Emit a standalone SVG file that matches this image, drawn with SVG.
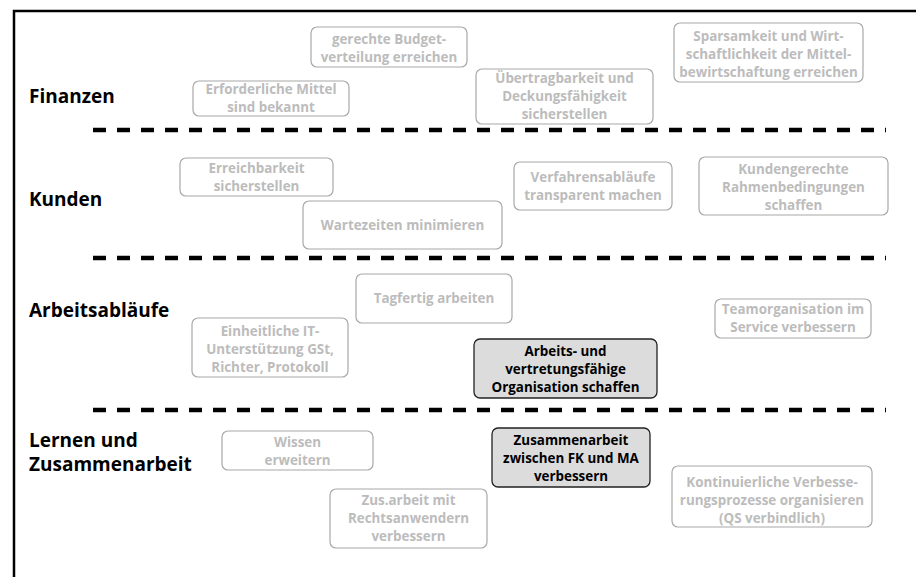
<svg xmlns="http://www.w3.org/2000/svg" width="916" height="577" viewBox="0 0 916 577">
  <style>
    .frame { fill: none; stroke: #000; stroke-width: 2.5; }
    .sep { fill: none; stroke: #000; stroke-width: 4.5; stroke-dasharray: 13 11; }
    .lane { font-family: "Open Sans", "Liberation Sans", sans-serif; font-weight: bold; font-size: 19px; fill: #000; }
    .box { fill: #fff; stroke: #a8a8a8; stroke-width: 1.2; }
    .box-t { font-family: "Open Sans", "Liberation Sans", sans-serif; font-weight: bold; font-size: 13.4px; fill: #bcbcbc; text-anchor: middle; }
    .hl { fill: #dcdcdc; stroke: #222; stroke-width: 1.3; }
    .hl-t { font-family: "Open Sans", "Liberation Sans", sans-serif; font-weight: bold; font-size: 13.4px; fill: #000; text-anchor: middle; }
  </style>

  <!-- outer frame: top and left edges -->
  <g id="frame">
    <path class="frame" d="M14 577 V11 H916"/>
  </g>

  <!-- perspective separators -->
  <g id="connectors">
    <line class="sep" x1="93" y1="130" x2="886" y2="130"/>
    <line class="sep" x1="93" y1="258" x2="886" y2="258"/>
    <line class="sep" x1="93" y1="410" x2="886" y2="410"/>
  </g>

  <!-- lane labels -->
  <g id="lane-finanzen"><text class="lane" x="29" y="103">Finanzen</text></g>
  <g id="lane-kunden"><text class="lane" x="29" y="206">Kunden</text></g>
  <g id="lane-arbeitsablaeufe"><text class="lane" x="29" y="317">Arbeitsabläufe</text></g>
  <g id="lane-lernen"><text class="lane" x="29" y="447">Lernen und<tspan x="29" y="471">Zusammenarbeit</tspan></text></g>

  <!-- Finanzen -->
  <g id="n-budget">
    <rect class="box" x="311" y="27" width="156" height="40" rx="6"/>
    <text class="box-t" x="389" y="44">gerechte Budget-<tspan x="389" y="62">verteilung erreichen</tspan></text>
  </g>
  <g id="n-mittel">
    <rect class="box" x="193" y="81" width="156" height="35" rx="6"/>
    <text class="box-t" x="271" y="94">Erforderliche Mittel<tspan x="271" y="112">sind bekannt</tspan></text>
  </g>
  <g id="n-uebertragbarkeit">
    <rect class="box" x="476" y="69" width="177" height="55" rx="6"/>
    <text class="box-t" x="564.5" y="83">Übertragbarkeit und<tspan x="564.5" y="101">Deckungsfähigkeit</tspan><tspan x="564.5" y="119">sicherstellen</tspan></text>
  </g>
  <g id="n-sparsamkeit">
    <rect class="box" x="674" y="23" width="189" height="59" rx="6"/>
    <text class="box-t" x="768.5" y="41">Sparsamkeit und Wirt-<tspan x="768.5" y="59">schaftlichkeit der Mittel-</tspan><tspan x="768.5" y="77">bewirtschaftung erreichen</tspan></text>
  </g>

  <!-- Kunden -->
  <g id="n-erreichbarkeit">
    <rect class="box" x="180" y="158" width="153" height="38" rx="6"/>
    <text class="box-t" x="256.5" y="173">Erreichbarkeit<tspan x="256.5" y="191">sicherstellen</tspan></text>
  </g>
  <g id="n-wartezeiten">
    <rect class="box" x="303" y="201" width="199" height="48" rx="6"/>
    <text class="box-t" x="402.5" y="230">Wartezeiten minimieren</text>
  </g>
  <g id="n-verfahren">
    <rect class="box" x="514" y="162" width="158" height="48" rx="6"/>
    <text class="box-t" x="593" y="182">Verfahrensabläufe<tspan x="593" y="200">transparent machen</tspan></text>
  </g>
  <g id="n-kundengerecht">
    <rect class="box" x="699" y="157" width="189" height="58" rx="6"/>
    <text class="box-t" x="793.5" y="174">Kundengerechte<tspan x="793.5" y="192">Rahmenbedingungen</tspan><tspan x="793.5" y="210">schaffen</tspan></text>
  </g>

  <!-- Arbeitsabläufe -->
  <g id="n-tagfertig">
    <rect class="box" x="356" y="274" width="156" height="49" rx="6"/>
    <text class="box-t" x="434" y="303">Tagfertig arbeiten</text>
  </g>
  <g id="n-it">
    <rect class="box" x="192" y="318" width="156" height="59" rx="6"/>
    <text class="box-t" x="270" y="336">Einheitliche IT-<tspan x="270" y="354">Unterstützung GSt,</tspan><tspan x="270" y="372">Richter, Protokoll</tspan></text>
  </g>
  <g id="n-vertretung">
    <rect class="hl" x="474" y="339" width="183" height="59" rx="6"/>
    <text class="hl-t" x="565.5" y="356">Arbeits- und<tspan x="565.5" y="374">vertretungsfähige</tspan><tspan x="565.5" y="392">Organisation schaffen</tspan></text>
  </g>
  <g id="n-team">
    <rect class="box" x="715" y="299" width="156" height="39" rx="6"/>
    <text class="box-t" x="793" y="314">Teamorganisation im<tspan x="793" y="332">Service verbessern</tspan></text>
  </g>

  <!-- Lernen und Zusammenarbeit -->
  <g id="n-wissen">
    <rect class="box" x="222" y="431" width="151" height="39" rx="6"/>
    <text class="box-t" x="297.5" y="447">Wissen<tspan x="297.5" y="465">erweitern</tspan></text>
  </g>
  <g id="n-rechtsanwender">
    <rect class="box" x="330" y="489" width="157" height="59" rx="6"/>
    <text class="box-t" x="408.5" y="505">Zus.arbeit mit<tspan x="408.5" y="523">Rechtsanwendern</tspan><tspan x="408.5" y="541">verbessern</tspan></text>
  </g>
  <g id="n-fk-ma">
    <rect class="hl" x="492" y="428" width="158" height="59" rx="6"/>
    <text class="hl-t" x="571" y="445">Zusammenarbeit<tspan x="571" y="463">zwischen FK und MA</tspan><tspan x="571" y="481">verbessern</tspan></text>
  </g>
  <g id="n-kvp">
    <rect class="box" x="672" y="466" width="200" height="61" rx="6"/>
    <text class="box-t" x="772" y="487">Kontinuierliche Verbesse-<tspan x="772" y="505">rungsprozesse organisieren</tspan><tspan x="772" y="523">(QS verbindlich)</tspan></text>
  </g>
</svg>
